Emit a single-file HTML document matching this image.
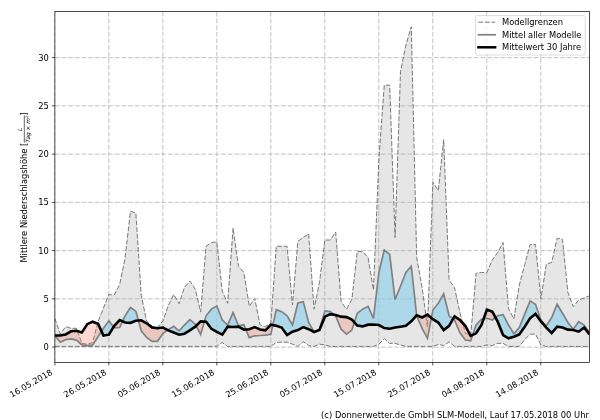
<!DOCTYPE html>
<html><head><meta charset="utf-8"><title>Niederschlag</title><style>html,body{margin:0;padding:0;background:#fff;width:600px;height:420px;overflow:hidden}</style></head><body>
<svg width="600" height="420" viewBox="0 0 600 420" style="display:block;position:absolute;left:0;top:0">
<rect width="600" height="420" fill="#fff"/>
<defs><clipPath id="cp"><rect x="54.85" y="11.5" width="534.65" height="351.0"/></clipPath></defs>
<g clip-path="url(#cp)">
<polygon points="54.85,318.29 60.25,334.18 65.65,326.67 71.05,328.31 76.45,328.31 81.85,343.33 87.25,344.2 92.65,342.55 98.05,321.57 103.45,308.09 108.86,294.52 114.26,295 119.66,284.51 125.06,258.32 130.46,211.25 135.86,212.97 141.26,295.58 146.66,321.09 152.06,326.19 157.46,327.35 162.86,321.09 168.26,305.68 173.66,294.52 179.06,303.67 184.46,287.4 189.86,281.13 195.26,289.13 200.66,312.14 206.06,246.29 211.46,242.53 216.87,241.95 222.27,291.25 227.67,303.28 233.07,228 238.47,266.21 243.87,272.48 249.27,306.26 254.67,298.27 260.07,325.04 265.47,326.67 270.87,323.3 276.27,246.29 281.67,246.29 287.07,246.29 292.47,305.01 297.87,241.28 303.27,237.52 308.67,233.77 314.07,309.15 319.47,282.54 324.88,240.03 330.28,240.03 335.68,232.04 341.08,301.64 346.48,309.15 351.88,299.43 357.28,251.29 362.68,251.78 368.08,257.45 373.48,289.99 378.88,158.88 384.28,85.13 389.68,85.13 395.08,237.52 400.48,71.84 405.88,44.99 411.28,26.79 416.68,257.55 422.08,287.49 427.48,326.84 432.89,182.17 438.29,190.64 443.69,139.62 449.09,279.98 454.49,287.49 459.89,312.36 465.29,333.11 470.69,335.52 476.09,273.24 481.49,272.48 486.89,272.48 492.29,259.96 497.69,252.54 503.09,242.53 508.49,308.69 513.89,318.92 519.29,284.98 524.69,264.96 530.09,244.45 535.49,244.45 540.9,298.75 546.3,264.29 551.7,262.46 557.1,238.3 562.5,239.26 567.9,292.5 573.3,306.65 578.7,300.01 584.1,297.98 589.5,295.77 589.5,346.42 584.1,346.42 578.7,346.42 573.3,346.42 567.9,346.42 562.5,346.42 557.1,346.42 551.7,346.42 546.3,346.42 540.9,344.97 535.49,334.08 530.09,334.18 524.69,339.67 519.29,346.42 513.89,346.42 508.49,346.42 503.09,343.33 497.69,343.33 492.29,345.54 486.89,344.97 481.49,346.42 476.09,346.42 470.69,346.42 465.29,346.42 459.89,346.42 454.49,346.42 449.09,341.79 443.69,345.54 438.29,344.4 432.89,346.42 427.48,346.42 422.08,346.42 416.68,346.42 411.28,346.42 405.88,346.42 400.48,344.97 395.08,343.33 389.68,343.33 384.28,338.7 378.88,344.2 373.48,346.42 368.08,346.42 362.68,346.42 357.28,346.42 351.88,346.42 346.48,346.42 341.08,346.42 335.68,346.42 330.28,346.42 324.88,344.97 319.47,344.2 314.07,346.42 308.67,345.54 303.27,341.69 297.87,346.42 292.47,344.2 287.07,342.17 281.67,342.17 276.27,342.46 270.87,346.42 265.47,346.42 260.07,346.42 254.67,346.42 249.27,346.42 243.87,346.42 238.47,346.42 233.07,346.42 227.67,346.42 222.27,342.46 216.87,346.42 211.46,346.42 206.06,346.42 200.66,346.42 195.26,346.42 189.86,346.42 184.46,346.42 179.06,346.42 173.66,346.42 168.26,346.42 162.86,346.42 157.46,346.42 152.06,346.42 146.66,346.42 141.26,346.42 135.86,346.42 130.46,346.42 125.06,346.42 119.66,346.42 114.26,346.42 108.86,346.42 103.45,346.42 98.05,346.42 92.65,346.42 87.25,346.42 81.85,346.42 76.45,346.42 71.05,346.42 65.65,346.42 60.25,346.42 54.85,346.42" fill="#808080" fill-opacity="0.2"/>
<path d="M54.85 362.5V11.5M108.84 362.5V11.5M162.83 362.5V11.5M216.82 362.5V11.5M270.81 362.5V11.5M324.8 362.5V11.5M378.79 362.5V11.5M432.78 362.5V11.5M486.77 362.5V11.5M540.76 362.5V11.5M54.85 347.1H589.5M54.85 298.85H589.5M54.85 250.6H589.5M54.85 202.35H589.5M54.85 154.1H589.5M54.85 105.85H589.5M54.85 57.6H589.5" stroke="#b0b0b0" stroke-width="0.75" stroke-dasharray="4.9 1.75" fill="none"/>
<polyline points="54.85,318.29 60.25,334.18 65.65,326.67 71.05,328.31 76.45,328.31 81.85,343.33 87.25,344.2 92.65,342.55 98.05,321.57 103.45,308.09 108.86,294.52 114.26,295 119.66,284.51 125.06,258.32 130.46,211.25 135.86,212.97 141.26,295.58 146.66,321.09 152.06,326.19 157.46,327.35 162.86,321.09 168.26,305.68 173.66,294.52 179.06,303.67 184.46,287.4 189.86,281.13 195.26,289.13 200.66,312.14 206.06,246.29 211.46,242.53 216.87,241.95 222.27,291.25 227.67,303.28 233.07,228 238.47,266.21 243.87,272.48 249.27,306.26 254.67,298.27 260.07,325.04 265.47,326.67 270.87,323.3 276.27,246.29 281.67,246.29 287.07,246.29 292.47,305.01 297.87,241.28 303.27,237.52 308.67,233.77 314.07,309.15 319.47,282.54 324.88,240.03 330.28,240.03 335.68,232.04 341.08,301.64 346.48,309.15 351.88,299.43 357.28,251.29 362.68,251.78 368.08,257.45 373.48,289.99 378.88,158.88 384.28,85.13 389.68,85.13 395.08,237.52 400.48,71.84 405.88,44.99 411.28,26.79 416.68,257.55 422.08,287.49 427.48,326.84 432.89,182.17 438.29,190.64 443.69,139.62 449.09,279.98 454.49,287.49 459.89,312.36 465.29,333.11 470.69,335.52 476.09,273.24 481.49,272.48 486.89,272.48 492.29,259.96 497.69,252.54 503.09,242.53 508.49,308.69 513.89,318.92 519.29,284.98 524.69,264.96 530.09,244.45 535.49,244.45 540.9,298.75 546.3,264.29 551.7,262.46 557.1,238.3 562.5,239.26 567.9,292.5 573.3,306.65 578.7,300.01 584.1,297.98 589.5,295.77" fill="none" stroke="#787878" stroke-width="1.0" stroke-dasharray="4.9 1.75"/>
<polyline points="54.85,346.42 60.25,346.42 65.65,346.42 71.05,346.42 76.45,346.42 81.85,346.42 87.25,346.42 92.65,346.42 98.05,346.42 103.45,346.42 108.86,346.42 114.26,346.42 119.66,346.42 125.06,346.42 130.46,346.42 135.86,346.42 141.26,346.42 146.66,346.42 152.06,346.42 157.46,346.42 162.86,346.42 168.26,346.42 173.66,346.42 179.06,346.42 184.46,346.42 189.86,346.42 195.26,346.42 200.66,346.42 206.06,346.42 211.46,346.42 216.87,346.42 222.27,342.46 227.67,346.42 233.07,346.42 238.47,346.42 243.87,346.42 249.27,346.42 254.67,346.42 260.07,346.42 265.47,346.42 270.87,346.42 276.27,342.46 281.67,342.17 287.07,342.17 292.47,344.2 297.87,346.42 303.27,341.69 308.67,345.54 314.07,346.42 319.47,344.2 324.88,344.97 330.28,346.42 335.68,346.42 341.08,346.42 346.48,346.42 351.88,346.42 357.28,346.42 362.68,346.42 368.08,346.42 373.48,346.42 378.88,344.2 384.28,338.7 389.68,343.33 395.08,343.33 400.48,344.97 405.88,346.42 411.28,346.42 416.68,346.42 422.08,346.42 427.48,346.42 432.89,346.42 438.29,344.4 443.69,345.54 449.09,341.79 454.49,346.42 459.89,346.42 465.29,346.42 470.69,346.42 476.09,346.42 481.49,346.42 486.89,344.97 492.29,345.54 497.69,343.33 503.09,343.33 508.49,346.42 513.89,346.42 519.29,346.42 524.69,339.67 530.09,334.18 535.49,334.08 540.9,344.97 546.3,346.42 551.7,346.42 557.1,346.42 562.5,346.42 567.9,346.42 573.3,346.42 578.7,346.42 584.1,346.42 589.5,346.42" fill="none" stroke="#787878" stroke-width="1.0" stroke-dasharray="4.9 1.75"/>
<polygon points="101.53,331.3 103.45,328.31 108.86,320.8 113.57,326.93 108.86,334.66 103.45,335.53" fill="#87ceeb" fill-opacity="0.6"/>
<polygon points="122.5,321.35 125.06,315.8 130.46,307.52 135.86,311.17 138.44,320.57 135.86,320.8 130.46,322.82 125.06,322.53" fill="#87ceeb" fill-opacity="0.6"/>
<polygon points="167.73,330.05 168.26,329.65 173.66,326.38 179.06,330.81 184.46,325.04 189.86,319.65 195.26,324.17 196.13,325.82 195.26,326.67 189.86,330.33 184.46,333.7 179.06,334.66 173.66,332.55 168.26,330.33" fill="#87ceeb" fill-opacity="0.6"/>
<polygon points="204.39,321.57 206.06,315.8 211.46,309.15 216.87,305.88 222.27,320.03 227.67,325.04 233.07,312.52 238.47,325.8 243.87,324.65 245.87,329.48 243.87,329.65 238.47,326.67 233.07,326.96 227.67,326.67 222.27,334.66 216.87,331.97 211.46,328.79 206.06,321.66" fill="#87ceeb" fill-opacity="0.6"/>
<polygon points="272.87,325.08 276.27,309.63 281.67,311.66 287.07,315.8 292.47,325.04 297.87,302.99 303.27,301.64 308.67,322.53 314.07,331.97 308.67,329.18 303.27,327.15 297.87,330.04 292.47,331.68 287.07,335.05 281.67,327.54 276.27,325.8" fill="#87ceeb" fill-opacity="0.6"/>
<polygon points="314.07,331.97 319.47,329.27 324.88,310.88 330.28,311.66 334.28,314.8 330.28,314.15 324.88,316.66 319.47,330.04" fill="#87ceeb" fill-opacity="0.6"/>
<polygon points="354.36,322.34 357.28,313.29 362.68,309.15 368.08,306.36 373.48,318.29 378.88,272.48 384.28,250.04 389.68,254.47 395.08,299.53 400.48,286.24 405.88,272.48 411.28,266.21 416.64,315.37 411.28,321.37 405.88,325.8 400.48,326.67 395.08,327.54 389.68,328.79 384.28,328.02 378.88,325.04 373.48,324.46 368.08,324.65 362.68,326.38 357.28,325.51" fill="#87ceeb" fill-opacity="0.6"/>
<polygon points="431.38,317.9 432.89,310.02 438.29,303.28 443.69,293.84 449.09,315.8 453.04,318.9 449.09,325.8 443.69,330.04 438.29,322.53 432.89,319.16" fill="#87ceeb" fill-opacity="0.6"/>
<polygon points="472.73,334.87 476.09,325.04 481.49,319.16 483.67,318.81 481.49,325.04 476.09,333.31" fill="#87ceeb" fill-opacity="0.6"/>
<polygon points="495.47,317.54 497.69,315.8 503.09,314.64 508.49,325.04 513.89,333.7 519.29,327.54 524.69,314.15 530.09,300.88 535.49,304.24 540.9,320.03 546.3,325.8 551.7,317.52 557.1,304.24 562.5,313.29 567.9,322.53 573.3,329.18 578.7,321.66 584.1,325.04 589.5,332.55 589.5,334.47 584.1,327.54 578.7,331.68 573.3,330.04 567.9,329.65 562.5,327.54 557.1,326.67 551.7,333.03 546.3,327.54 540.9,321.37 535.49,313.87 530.09,318.29 524.69,326.67 519.29,334.47 513.89,336.69 508.49,338.32 503.09,335.05 497.69,321.66" fill="#87ceeb" fill-opacity="0.6"/>
<polygon points="54.85,335.53 60.25,342.17 65.65,339.67 71.05,338.9 76.45,340.06 81.85,344.97 87.25,345.54 92.65,344.97 98.05,336.69 101.53,331.3 98.05,323.69 92.65,321.66 87.25,324.17 81.85,332.55 76.45,330.81 71.05,331.29 65.65,334.47 60.25,335.53" fill="#fa8072" fill-opacity="0.3"/>
<polygon points="113.57,326.93 114.26,327.83 119.66,327.54 122.5,321.35 119.66,320.03 114.26,325.8" fill="#fa8072" fill-opacity="0.3"/>
<polygon points="138.44,320.57 141.26,330.81 146.66,337.45 152.06,341.45 157.46,341.31 162.86,333.7 167.73,330.05 162.86,327.54 157.46,328.31 152.06,327.54 146.66,323.3 141.26,320.32" fill="#fa8072" fill-opacity="0.3"/>
<polygon points="196.13,325.82 200.66,334.47 204.39,321.57 200.66,321.37" fill="#fa8072" fill-opacity="0.3"/>
<polygon points="245.87,329.48 249.27,337.65 254.67,335.82 260.07,335.53 265.47,335.05 270.87,334.18 272.87,325.08 270.87,324.65 265.47,330.33 260.07,329.46 254.67,327.15 249.27,329.18" fill="#fa8072" fill-opacity="0.3"/>
<polygon points="334.28,314.8 335.68,315.89 341.08,329.18 346.48,334.18 351.88,330.04 354.36,322.34 351.88,319.65 346.48,317.14 341.08,316.66 335.68,315.02" fill="#fa8072" fill-opacity="0.3"/>
<polygon points="416.64,315.37 416.68,315.8 422.08,328.31 427.48,338.32 431.38,317.9 427.48,314.64 422.08,317.52 416.68,315.31" fill="#fa8072" fill-opacity="0.3"/>
<polygon points="453.04,318.9 454.49,320.03 459.89,332.55 465.29,339.96 470.69,340.83 472.73,334.87 470.69,335.82 465.29,325.8 459.89,320.03 454.49,316.37" fill="#fa8072" fill-opacity="0.3"/>
<polygon points="483.67,318.81 486.89,318.29 492.29,320.03 495.47,317.54 492.29,311.66 486.89,309.63" fill="#fa8072" fill-opacity="0.3"/>
<polyline points="54.85,335.53 60.25,342.17 65.65,339.67 71.05,338.9 76.45,340.06 81.85,344.97 87.25,345.54 92.65,344.97 98.05,336.69 103.45,328.31 108.86,320.8 114.26,327.83 119.66,327.54 125.06,315.8 130.46,307.52 135.86,311.17 141.26,330.81 146.66,337.45 152.06,341.45 157.46,341.31 162.86,333.7 168.26,329.65 173.66,326.38 179.06,330.81 184.46,325.04 189.86,319.65 195.26,324.17 200.66,334.47 206.06,315.8 211.46,309.15 216.87,305.88 222.27,320.03 227.67,325.04 233.07,312.52 238.47,325.8 243.87,324.65 249.27,337.65 254.67,335.82 260.07,335.53 265.47,335.05 270.87,334.18 276.27,309.63 281.67,311.66 287.07,315.8 292.47,325.04 297.87,302.99 303.27,301.64 308.67,322.53 314.07,331.97 319.47,329.27 324.88,310.88 330.28,311.66 335.68,315.89 341.08,329.18 346.48,334.18 351.88,330.04 357.28,313.29 362.68,309.15 368.08,306.36 373.48,318.29 378.88,272.48 384.28,250.04 389.68,254.47 395.08,299.53 400.48,286.24 405.88,272.48 411.28,266.21 416.68,315.8 422.08,328.31 427.48,338.32 432.89,310.02 438.29,303.28 443.69,293.84 449.09,315.8 454.49,320.03 459.89,332.55 465.29,339.96 470.69,340.83 476.09,325.04 481.49,319.16 486.89,318.29 492.29,320.03 497.69,315.8 503.09,314.64 508.49,325.04 513.89,333.7 519.29,327.54 524.69,314.15 530.09,300.88 535.49,304.24 540.9,320.03 546.3,325.8 551.7,317.52 557.1,304.24 562.5,313.29 567.9,322.53 573.3,329.18 578.7,321.66 584.1,325.04 589.5,332.55" fill="none" stroke="#808080" stroke-width="1.67" stroke-linejoin="miter" stroke-miterlimit="3"/>
<polyline points="54.85,335.53 60.25,335.53 65.65,334.47 71.05,331.29 76.45,330.81 81.85,332.55 87.25,324.17 92.65,321.66 98.05,323.69 103.45,335.53 108.86,334.66 114.26,325.8 119.66,320.03 125.06,322.53 130.46,322.82 135.86,320.8 141.26,320.32 146.66,323.3 152.06,327.54 157.46,328.31 162.86,327.54 168.26,330.33 173.66,332.55 179.06,334.66 184.46,333.7 189.86,330.33 195.26,326.67 200.66,321.37 206.06,321.66 211.46,328.79 216.87,331.97 222.27,334.66 227.67,326.67 233.07,326.96 238.47,326.67 243.87,329.65 249.27,329.18 254.67,327.15 260.07,329.46 265.47,330.33 270.87,324.65 276.27,325.8 281.67,327.54 287.07,335.05 292.47,331.68 297.87,330.04 303.27,327.15 308.67,329.18 314.07,331.97 319.47,330.04 324.88,316.66 330.28,314.15 335.68,315.02 341.08,316.66 346.48,317.14 351.88,319.65 357.28,325.51 362.68,326.38 368.08,324.65 373.48,324.46 378.88,325.04 384.28,328.02 389.68,328.79 395.08,327.54 400.48,326.67 405.88,325.8 411.28,321.37 416.68,315.31 422.08,317.52 427.48,314.64 432.89,319.16 438.29,322.53 443.69,330.04 449.09,325.8 454.49,316.37 459.89,320.03 465.29,325.8 470.69,335.82 476.09,333.31 481.49,325.04 486.89,309.63 492.29,311.66 497.69,321.66 503.09,335.05 508.49,338.32 513.89,336.69 519.29,334.47 524.69,326.67 530.09,318.29 535.49,313.87 540.9,321.37 546.3,327.54 551.7,333.03 557.1,326.67 562.5,327.54 567.9,329.65 573.3,330.04 578.7,331.68 584.1,327.54 589.5,334.47" fill="none" stroke="#000" stroke-width="2.6" stroke-linejoin="miter" stroke-miterlimit="3"/>
</g>
<path d="M54.85 362.5v2.9M108.84 362.5v2.9M162.83 362.5v2.9M216.82 362.5v2.9M270.81 362.5v2.9M324.8 362.5v2.9M378.79 362.5v2.9M432.78 362.5v2.9M486.77 362.5v2.9M540.76 362.5v2.9M54.85 347.1h-2.9M54.85 298.85h-2.9M54.85 250.6h-2.9M54.85 202.35h-2.9M54.85 154.1h-2.9M54.85 105.85h-2.9M54.85 57.6h-2.9" stroke="#000" stroke-width="0.7" fill="none"/>
<rect x="54.85" y="11.5" width="534.65" height="351.0" fill="none" stroke="#000" stroke-width="0.7"/>
<text x="48.75" y="350.2" text-anchor="end" font-size="8.33" font-family="'DejaVu Sans', 'Liberation Sans', sans-serif" fill="#000">0</text>
<text x="48.75" y="301.95" text-anchor="end" font-size="8.33" font-family="'DejaVu Sans', 'Liberation Sans', sans-serif" fill="#000">5</text>
<text x="48.75" y="253.7" text-anchor="end" font-size="8.33" font-family="'DejaVu Sans', 'Liberation Sans', sans-serif" fill="#000">10</text>
<text x="48.75" y="205.45" text-anchor="end" font-size="8.33" font-family="'DejaVu Sans', 'Liberation Sans', sans-serif" fill="#000">15</text>
<text x="48.75" y="157.2" text-anchor="end" font-size="8.33" font-family="'DejaVu Sans', 'Liberation Sans', sans-serif" fill="#000">20</text>
<text x="48.75" y="108.95" text-anchor="end" font-size="8.33" font-family="'DejaVu Sans', 'Liberation Sans', sans-serif" fill="#000">25</text>
<text x="48.75" y="60.7" text-anchor="end" font-size="8.33" font-family="'DejaVu Sans', 'Liberation Sans', sans-serif" fill="#000">30</text>
<text transform="translate(53.1 374.0) rotate(-30)" text-anchor="end" font-size="8.33" font-family="'DejaVu Sans', 'Liberation Sans', sans-serif" fill="#000">16.05.2018</text>
<text transform="translate(107.09 374.0) rotate(-30)" text-anchor="end" font-size="8.33" font-family="'DejaVu Sans', 'Liberation Sans', sans-serif" fill="#000">26.05.2018</text>
<text transform="translate(161.08 374.0) rotate(-30)" text-anchor="end" font-size="8.33" font-family="'DejaVu Sans', 'Liberation Sans', sans-serif" fill="#000">05.06.2018</text>
<text transform="translate(215.07 374.0) rotate(-30)" text-anchor="end" font-size="8.33" font-family="'DejaVu Sans', 'Liberation Sans', sans-serif" fill="#000">15.06.2018</text>
<text transform="translate(269.06 374.0) rotate(-30)" text-anchor="end" font-size="8.33" font-family="'DejaVu Sans', 'Liberation Sans', sans-serif" fill="#000">25.06.2018</text>
<text transform="translate(323.05 374.0) rotate(-30)" text-anchor="end" font-size="8.33" font-family="'DejaVu Sans', 'Liberation Sans', sans-serif" fill="#000">05.07.2018</text>
<text transform="translate(377.04 374.0) rotate(-30)" text-anchor="end" font-size="8.33" font-family="'DejaVu Sans', 'Liberation Sans', sans-serif" fill="#000">15.07.2018</text>
<text transform="translate(431.03 374.0) rotate(-30)" text-anchor="end" font-size="8.33" font-family="'DejaVu Sans', 'Liberation Sans', sans-serif" fill="#000">25.07.2018</text>
<text transform="translate(485.02 374.0) rotate(-30)" text-anchor="end" font-size="8.33" font-family="'DejaVu Sans', 'Liberation Sans', sans-serif" fill="#000">04.08.2018</text>
<text transform="translate(539.01 374.0) rotate(-30)" text-anchor="end" font-size="8.33" font-family="'DejaVu Sans', 'Liberation Sans', sans-serif" fill="#000">14.08.2018</text>
<g transform="translate(26.5 262.6) rotate(-90)" font-family="'DejaVu Sans', 'Liberation Sans', sans-serif" fill="#000"><text x="0" y="0" font-size="8.33">Mittlere Niederschlagshöhe [</text><text x="133.3" y="-4.1" font-size="5.83" font-style="italic" text-anchor="middle">L</text><path d="M119.9 -2.2H147.3" stroke="#000" stroke-width="0.6"/><text x="133.5" y="3.2" font-size="5.83" font-style="italic" text-anchor="middle">Tag × m²</text><text x="147.05" y="0" font-size="8.33">]</text></g>
<rect x="475.5" y="15.6" width="109.8" height="39.4" rx="1.7" fill="#fff" fill-opacity="0.8" stroke="#ccc" stroke-opacity="0.8" stroke-width="0.83"/>
<path d="M478.3 22.2H495.3" stroke="#787878" stroke-width="1.0" stroke-dasharray="4.9 1.75"/>
<path d="M477.6 34.75H496" stroke="#808080" stroke-width="1.67"/>
<path d="M477.2 47.3H496.4" stroke="#000" stroke-width="2.5"/>
<text x="502.0" y="25.2" font-size="8.33" font-family="'DejaVu Sans', 'Liberation Sans', sans-serif" fill="#000">Modellgrenzen</text>
<text x="502.0" y="37.75" font-size="8.33" font-family="'DejaVu Sans', 'Liberation Sans', sans-serif" fill="#000">Mittel aller Modelle</text>
<text x="502.0" y="50.3" font-size="8.33" font-family="'DejaVu Sans', 'Liberation Sans', sans-serif" fill="#000">Mittelwert 30 Jahre</text>
<text y="418.2" font-size="8.33" font-family="'DejaVu Sans', 'Liberation Sans', sans-serif" fill="#000"><tspan x="321.05" letter-spacing="0.034">(c) Donnerwetter.de GmbH SLM-</tspan><tspan x="457.25">Modell, Lauf 17.05.2018 00 Uhr</tspan></text>
</svg>
</body></html>
